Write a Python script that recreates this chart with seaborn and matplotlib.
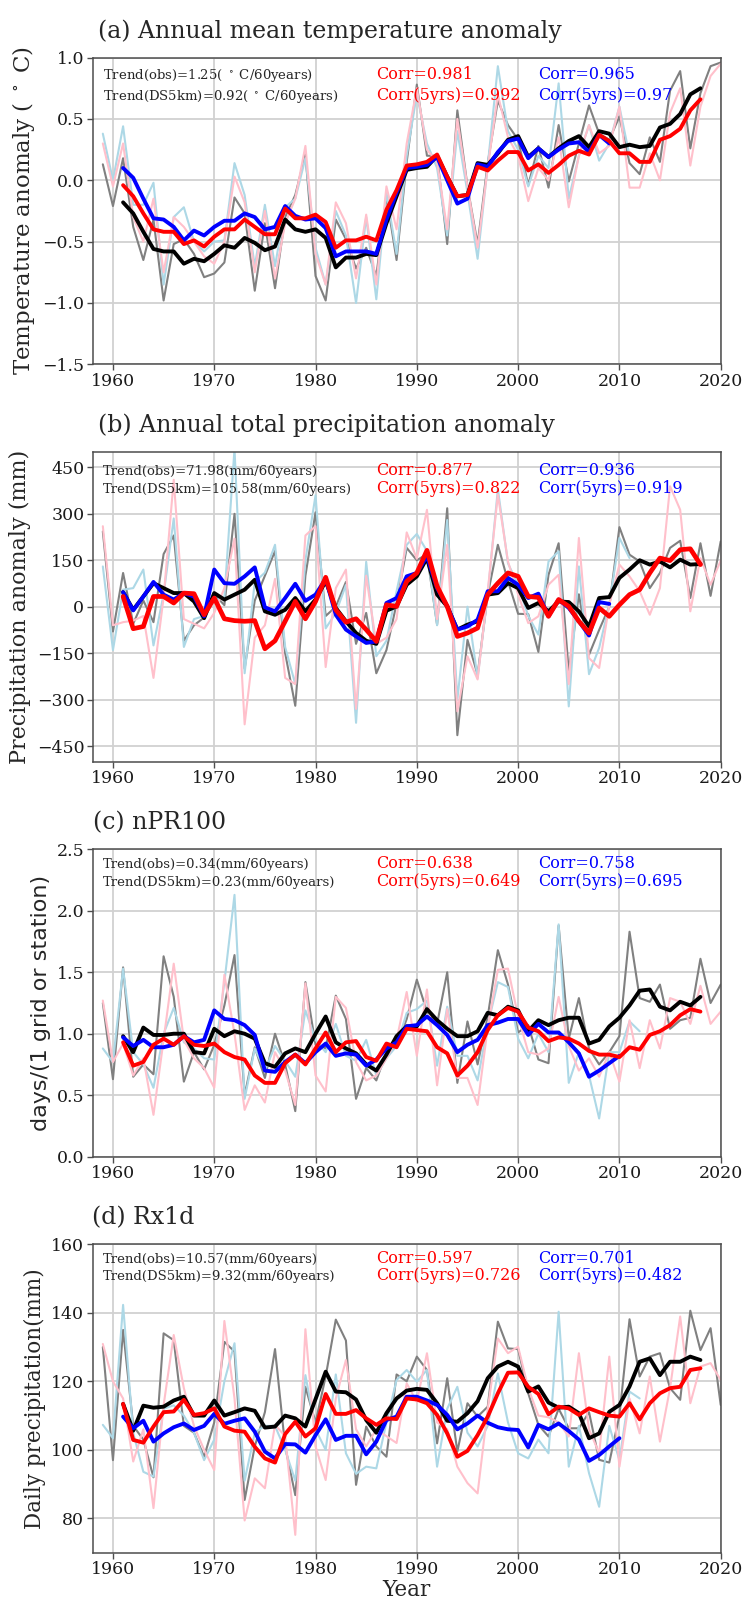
import matplotlib
matplotlib.use("Agg")
import matplotlib.pyplot as plt
import seaborn as sns
import numpy as np
import pandas as pd

# ---------------- data ----------------
years_all = list(range(1959, 2021))      # annual series
years_5yr = list(range(1961, 2019))      # 5-year running means (obs, DS5km)

# (a) Annual mean temperature anomaly
obs_a = [0.13, -0.21, 0.18, -0.38, -0.65, -0.32, -0.98, -0.52, -0.48, -0.6,
         -0.79, -0.76, -0.67, -0.14, -0.27, -0.9, -0.35, -0.88, -0.3, -0.12,
         0.21, -0.78, -0.98, -0.32, -0.48, -0.72, -0.55, -0.78, -0.13, -0.65,
         0.15, 0.78, 0.2, 0.2, -0.52, 0.57, -0.05, -0.52, 0.14, 0.65,
         0.45, 0.33, -0.04, 0.28, -0.06, 0.45, -0.01, 0.3, 0.61, 0.38,
         0.33, 0.52, 0.14, 0.05, 0.35, 0.15, 0.73, 0.89, 0.26, 0.71,
         0.93, 0.96]
ds_a = [0.3, -0.05, 0.3, -0.3, -0.5, -0.15, -0.75, -0.3, -0.38, -0.5,
        -0.62, -0.68, -0.5, 0.03, -0.18, -0.75, -0.25, -0.8, -0.35, -0.15,
        0.28, -0.6, -0.85, -0.18, -0.35, -0.8, -0.28, -0.85, -0.05, -0.4,
        0.3, 0.75, 0.25, 0.15, -0.4, 0.5, -0.05, -0.55, 0.1, 0.7,
        0.35, 0.2, -0.17, 0.1, 0.0, 0.35, -0.22, 0.2, 0.45, 0.22,
        0.28, 0.6, -0.06, -0.06, 0.22, 0.0, 0.55, 0.75, 0.12, 0.6,
        0.85, 0.95]
years_c_a = list(range(1959, 2012))
cmp_a = [0.38, 0.0, 0.44, -0.2, -0.2, -0.02, -0.85, -0.3, -0.22, -0.5,
         -0.58, -0.5, -0.49, 0.14, -0.12, -0.7, -0.2, -0.7, -0.22, -0.15,
         0.18, -0.55, -0.85, -0.25, -0.45, -1.0, -0.3, -0.97, -0.1, -0.6,
         0.2, 0.7, 0.3, 0.1, -0.45, 0.4, -0.1, -0.64, 0.12, 0.93,
         0.4, 0.25, -0.05, 0.2, 0.1, 0.79, -0.15, 0.2, 0.45, 0.16,
         0.3, 0.6, 0.2]
obs5_a = [-0.18, -0.27, -0.42, -0.56, -0.58, -0.58, -0.68, -0.64, -0.66, -0.6,
          -0.53, -0.55, -0.47, -0.51, -0.57, -0.54, -0.32, -0.4, -0.42, -0.4,
          -0.47, -0.71, -0.63, -0.63, -0.6, -0.61, -0.35, -0.13, 0.085, 0.1,
          0.11, 0.2, 0.03, -0.13, -0.12, 0.14, 0.125, 0.22, 0.33, 0.36,
          0.19, 0.26, 0.19, 0.26, 0.32, 0.36, 0.27, 0.4, 0.38, 0.27,
          0.29, 0.27, 0.28, 0.43, 0.46, 0.54, 0.7, 0.75]
ds5_a = [-0.04, -0.13, -0.27, -0.4, -0.42, -0.42, -0.52, -0.49, -0.54, -0.46,
         -0.4, -0.4, -0.32, -0.38, -0.44, -0.44, -0.23, -0.31, -0.31, -0.28,
         -0.34, -0.55, -0.49, -0.49, -0.46, -0.49, -0.24, -0.08, 0.12, 0.13,
         0.15, 0.21, 0.03, -0.13, -0.12, 0.11, 0.08, 0.16, 0.23, 0.23,
         0.08, 0.13, 0.06, 0.125, 0.2, 0.24, 0.21, 0.37, 0.32, 0.22,
         0.22, 0.15, 0.15, 0.33, 0.36, 0.42, 0.57, 0.66]
years_c5_a = list(range(1961, 2010))
cmp5_a = [0.1, 0.02, -0.15, -0.31, -0.32, -0.38, -0.49, -0.41, -0.45, -0.38,
          -0.33, -0.33, -0.27, -0.3, -0.4, -0.38, -0.21, -0.29, -0.32, -0.31,
          -0.39, -0.62, -0.58, -0.58, -0.58, -0.6, -0.32, -0.1, 0.1, 0.11,
          0.125, 0.19, 0.0, -0.19, -0.15, 0.13, 0.11, 0.23, 0.32, 0.34,
          0.18, 0.26, 0.19, 0.25, 0.3, 0.31, 0.23, 0.37, 0.3]

# (b) Annual total precipitation anomaly
obs_b = [243, -80, 109, -55, 20, -50, 170, 230, -110, -60,
         -35, 40, 5, 300, -200, 20, 100, 180, -150, -320,
         100, 305, -30, 0, 80, -120, -20, -215, -140, 10,
         190, 150, 170, -58, 318, -415, -107, -220, 39, 200,
         82, -23, -24, -146, 103, 205, -210, 40, -155, -75,
         0, 257, 168, 146, 60, 109, 190, 213, 28, 205,
         35, 211]
ds_b = [260, -60, -50, -45, -30, -230, 30, 410, -40, -55,
        -70, -20, 60, 220, -380, -100, -60, 90, -230, -250,
        230, 260, -195, 60, 120, -330, 100, -120, -100, -40,
        240, 155, 313, -40, 200, -338, -160, -235, 50, 362,
        146, 39, -53, -31, 71, 103, -250, 222, -166, -198,
        6, 136, 98, 50, -26, 60, 389, 313, -15, 157,
        71, 149]
years_c_b = list(range(1959, 2012))
cmp_b = [130, -140, 55, 60, 120, -125, 40, 285, -130, -40,
         -30, 20, 30, 510, -215, 80, 110, 200, -130, -250,
         150, 360, -70, -20, 70, -375, 145, -160, -110, 50,
         200, 235, 180, -60, 280, -300, 0, -230, 40, 380,
         140, 70, -30, -90, 146, 179, -322, 130, -218, -133,
         6, 222, 157]
obs5_b = [47, -10, 33, 76, 60, 44, 44, 17, -37, 44,
          23, 39, 55, 87, -15, -26, -10, 28, -15, 23,
          82, -4, -47, -85, -110, -120, -13, 1, 71, 98,
          157, 39, 1, -74, -58, -47, 39, 44, 76, 60,
          -4, 12, -15, 17, 15, -15, -64, 28, 31, 93,
          120, 150, 136, 146, 127, 152, 136, 138]
ds5_b = [33, -71, -64, 33, 33, 12, 44, 42, -26, 28,
         -39, -45, -47, -45, -136, -110, -47, 17, -39, 17,
         95, -10, -50, -39, -74, -112, 6, 1, 82, 109,
         182, 66, 1, -96, -85, -69, 39, 76, 109, 98,
         33, 30, -31, 23, 1, -47, -85, -4, -31, 6,
         39, 55, 109, 157, 149, 184, 187, 136]
years_c5_b = list(range(1961, 2010))
cmp5_b = [47, -12, 33, 80, 39, 23, 44, 33, -31, 120,
          76, 74, 98, 127, -2, -15, 28, 74, 19, 39,
          90, -26, -74, -96, -117, -112, 12, 28, 98, 109,
          163, 60, 1, -74, -64, -42, 50, 50, 93, 71,
          28, 42, -31, 23, -4, -47, -93, 15, 9]

# (c) nPR100
obs_c = [1.25, 0.63, 1.54, 0.65, 0.75, 0.67, 1.63, 1.3, 0.61, 0.85,
         0.71, 0.91, 1.23, 1.64, 0.5, 0.89, 0.64, 1.0, 0.75, 0.37,
         1.42, 0.91, 0.88, 1.31, 1.12, 0.47, 0.72, 0.62, 0.85, 0.9,
         1.12, 1.44, 1.18, 1.08, 1.5, 0.6, 1.1, 0.75, 1.14, 1.68,
         1.4, 1.01, 1.07, 0.79, 0.76, 1.88, 0.96, 1.29, 0.88, 0.75,
         0.85, 0.98, 1.83, 1.29, 1.26, 1.4, 1.04, 1.11, 1.13, 1.61,
         1.25, 1.4]
ds_c = [1.27, 0.77, 0.92, 0.66, 0.8, 0.34, 0.95, 1.57, 0.95, 0.8,
        0.72, 0.56, 1.48, 1.0, 0.38, 0.58, 0.44, 0.85, 0.7, 0.42,
        1.41, 0.66, 0.53, 1.3, 1.21, 0.77, 0.62, 0.66, 0.8, 0.95,
        1.34, 0.82, 1.36, 0.58, 1.2, 0.64, 0.64, 0.42, 1.05, 1.52,
        1.53, 1.14, 0.85, 0.83, 0.88, 1.3, 0.9, 0.7, 0.8, 0.65,
        0.85, 0.61, 1.11, 0.72, 1.11, 0.88, 1.29, 1.26, 1.08, 1.39,
        1.08, 1.18]
years_c_c = list(range(1959, 2013))
cmp_c = [0.88, 0.77, 1.53, 0.85, 0.75, 0.56, 1.0, 1.21, 0.93, 0.88,
         0.8, 0.79, 1.42, 2.13, 0.47, 0.88, 0.7, 0.9, 0.78, 0.65,
         1.19, 0.95, 0.85, 1.08, 0.82, 0.78, 0.95, 0.66, 0.8, 0.9,
         1.17, 1.2, 1.27, 0.74, 1.22, 0.82, 0.82, 0.62, 1.07, 1.42,
         1.38, 0.96, 0.8, 1.0, 0.85, 1.89, 0.6, 0.85, 0.66, 0.31,
         0.85, 0.85, 1.1, 1.02]
obs5_c = [0.98, 0.85, 1.05, 0.99, 0.99, 1.0, 1.0, 0.85, 0.84, 1.04,
          0.98, 1.02, 1.0, 0.96, 0.76, 0.73, 0.84, 0.88, 0.85, 1.0,
          1.14, 0.93, 0.88, 0.84, 0.75, 0.7, 0.83, 0.98, 1.06, 1.06,
          1.2, 1.11, 1.04, 0.98, 0.98, 1.02, 1.17, 1.15, 1.22, 1.19,
          1.02, 1.11, 1.07, 1.11, 1.13, 1.13, 0.92, 0.95, 1.06, 1.13,
          1.23, 1.35, 1.36, 1.22, 1.19, 1.26, 1.23, 1.3]
ds5_c = [0.93, 0.74, 0.77, 0.91, 0.96, 0.91, 0.98, 0.91, 0.9, 0.92,
         0.85, 0.81, 0.79, 0.66, 0.6, 0.6, 0.76, 0.83, 0.75, 0.88,
         1.01, 0.85, 0.93, 0.94, 0.81, 0.78, 0.92, 0.89, 1.04, 1.03,
         1.02, 0.89, 0.84, 0.66, 0.74, 0.85, 1.03, 1.15, 1.21, 1.18,
         1.05, 1.02, 0.94, 0.97, 0.96, 0.92, 0.86, 0.83, 0.83, 0.81,
         0.89, 0.87, 0.99, 1.02, 1.07, 1.15, 1.2, 1.18]
years_c5_c = list(range(1961, 2011))
cmp5_c = [0.97, 0.9, 0.95, 0.89, 0.89, 0.91, 0.98, 0.93, 0.95, 1.19,
          1.12, 1.11, 1.07, 0.99, 0.7, 0.69, 0.77, 0.83, 0.76, 0.85,
          0.92, 0.82, 0.84, 0.83, 0.74, 0.79, 0.88, 0.93, 1.06, 1.07,
          1.14, 1.07, 0.99, 0.85, 0.91, 0.95, 1.07, 1.09, 1.12, 1.12,
          0.99, 1.08, 1.01, 1.01, 0.93, 0.84, 0.65, 0.7, 0.76, 0.82]

# (d) Rx1d
obs_d = [130, 97, 135, 107, 103, 92, 134, 132, 107, 105,
         98, 108, 131.5, 128.7, 85.4, 101, 111, 129.4, 101, 86.8,
         118.4, 108, 121.4, 138, 131.9, 89.8, 106.8, 101, 98, 122,
         120, 127.2, 123.3, 101.9, 120.9, 99.5, 113.6, 109.7, 112.6, 137.4,
         129.6, 129.4, 116.5, 107.3, 103.9, 112, 106.3, 106.3, 111, 97.1,
         96.3, 110, 138.1, 121.4, 127.2, 128.2, 118, 114.6, 140.6, 129.1,
         135.5, 113.1]
ds_d = [130.9, 120, 115, 96.6, 106, 83, 113, 133.5, 118, 107,
        100, 94.1, 137.6, 115, 79.4, 91.7, 88.8, 107.3, 104, 75.2,
        135.2, 101, 91.2, 115, 126.2, 106, 101, 106, 104, 102,
        119.4, 114, 128.2, 108, 106, 95.1, 90.3, 87.3, 112, 132.5,
        128.2, 130.1, 118, 110, 109.5, 108, 103.9, 128.2, 106, 99,
        127.2, 95.1, 115, 104.8, 121.4, 102.4, 118, 138.9, 113.6, 124.3,
        125.3, 120.4]
years_c_d = list(range(1959, 2013))
cmp_d = [107.3, 103.4, 142.3, 105, 93.6, 92.2, 112, 113, 110, 105,
         97, 103, 120, 131.1, 91, 105, 107, 107, 100, 91,
         121.8, 106, 100, 122, 99, 93, 95.1, 94.6, 108, 120.4,
         123.3, 119.9, 123.3, 95.1, 112, 118.4, 105, 101, 107, 122.3,
         108, 99, 97.5, 103, 99, 140.3, 95.1, 107, 93.2, 83.4,
         107, 97, 117, 115]
obs5_d = [113.4, 105.6, 112.9, 112.3, 112.6, 114.4, 115.5, 110, 110, 114.4,
          110, 111, 112.1, 111.4, 106.5, 106.8, 110, 109.2, 106.8, 114.8,
          122.8, 117, 116.8, 114.7, 108.7, 105, 110.7, 115, 117.3, 117.8,
          117.5, 113.6, 108.5, 108.2, 110.7, 114.2, 120.9, 124.3, 125.7, 124.3,
          117, 118.5, 113.8, 112.3, 112.6, 110.7, 103.4, 104.8, 111.1, 113.1,
          118.5, 125.7, 126.7, 121.8, 125.7, 125.7, 127.2, 126.2]
ds5_d = [113.4, 102.9, 102.1, 106.8, 111, 111.2, 114.6, 110.2, 110.7, 112.1,
         106.8, 105.6, 105.3, 100.9, 97.5, 96.3, 104.6, 108.2, 103.9, 106.3,
         116.3, 110.5, 110.5, 111.6, 109.2, 107.3, 109.2, 109, 115, 114.7,
         113.6, 110.2, 104.8, 98, 99.7, 104.3, 109.7, 116.5, 122.5, 122.6,
         118.4, 116.3, 110.4, 112.6, 112.1, 110.2, 112.1, 111, 110, 109.7,
         113.6, 108.9, 113.6, 116.5, 118, 118.4, 123.3, 123.8]
years_c5_d = list(range(1961, 2011))
cmp5_d = [109.7, 106.3, 108.5, 102.4, 104.8, 106.6, 107.7, 105.8, 107, 110.5,
          107.6, 108.5, 109.2, 105.3, 99.5, 97.5, 101.7, 101.6, 99.2, 104.3,
          108.9, 102.9, 104.1, 104.1, 98.7, 102.4, 108.7, 109.7, 115.5, 115.5,
          114.4, 113.1, 110.2, 106, 107.7, 110, 107.9, 106.6, 106, 105.8,
          100.7, 107.3, 106, 107.7, 105.5, 103, 96.8, 98.5, 101, 103.4]

titles = ["(a) Annual mean temperature anomaly",
          "(b) Annual total precipitation anomaly",
          "(c) nPR100",
          "(d) Rx1d"]
ylabels = ["Temperature anomaly ( $^\\circ$ C)",
           "Precipitation anomaly (mm)",
           "days/(1 grid or station)",
           "Daily precipitation(mm)"]
trend_obs = ["Trend(obs)=1.25( $^\\circ$ C/60years)",
             "Trend(obs)=71.98(mm/60years)",
             "Trend(obs)=0.34(mm/60years)",
             "Trend(obs)=10.57(mm/60years)"]
trend_ds = ["Trend(DS5km)=0.92( $^\\circ$ C/60years)",
            "Trend(DS5km)=105.58(mm/60years)",
            "Trend(DS5km)=0.23(mm/60years)",
            "Trend(DS5km)=9.32(mm/60years)"]
corr_red = [("Corr=0.981", "Corr(5yrs)=0.992"), ("Corr=0.877", "Corr(5yrs)=0.822"),
            ("Corr=0.638", "Corr(5yrs)=0.649"), ("Corr=0.597", "Corr(5yrs)=0.726")]
corr_blue = [("Corr=0.965", "Corr(5yrs)=0.97"), ("Corr=0.936", "Corr(5yrs)=0.919"),
             ("Corr=0.758", "Corr(5yrs)=0.695"), ("Corr=0.701", "Corr(5yrs)=0.482")]
yticks = [[-1.5, -1.0, -0.5, 0.0, 0.5, 1.0],
          [-450, -300, -150, 0, 150, 300, 450],
          [0.0, 0.5, 1.0, 1.5, 2.0, 2.5],
          [80, 100, 120, 140, 160]]
ylims = [(-1.5, 1.0), (-500, 500), (0.0, 2.5), (70, 160)]
xticks = [1960, 1970, 1980, 1990, 2000, 2010, 2020]

panels = [
    (obs_a, ds_a, years_c_a, cmp_a, obs5_a, ds5_a, years_c5_a, cmp5_a),
    (obs_b, ds_b, years_c_b, cmp_b, obs5_b, ds5_b, years_c5_b, cmp5_b),
    (obs_c, ds_c, years_c_c, cmp_c, obs5_c, ds5_c, years_c5_c, cmp5_c),
    (obs_d, ds_d, years_c_d, cmp_d, obs5_d, ds5_d, years_c5_d, cmp5_d),
]

# ---------------- style ----------------
sns.set_theme(style="whitegrid")
plt.rcParams["font.family"] = ["DejaVu Serif"]
plt.rcParams["mathtext.fontset"] = "dejavuserif"
plt.rcParams["axes.unicode_minus"] = True

W, H = 746, 1600
fig = plt.figure(figsize=(W / 100, H / 100), dpi=100)

# axes boxes in pixels: (top, bottom)
boxes = [(57.6, 364.3), (451.9, 761.5), (849.4, 1156.6), (1244.2, 1552.7)]
left_px, right_px = 92.7, 720.7
title_dx = [5, 5, 0, -1]
text_rows = [(21.7, 42.4), (22.8, 41.1), (18.3, 36.3), (18.5, 35.8)]
ylabel_sizes = [16.5, 16, 16, 15.5]
PX = 0.72  # points per pixel at 100 dpi

for i, (top, bot) in enumerate(boxes):
    ax = fig.add_axes([left_px / W, 1 - bot / H, (right_px - left_px) / W, (bot - top) / H])
    obs, ds, yc, cmpv, obs5, ds5, yc5, cmp5 = panels[i]

    thin = 1.5
    thick = 3.4 if i == 1 else 2.8
    sns.lineplot(x=years_all, y=obs, ax=ax, color="gray", lw=thin, estimator=None, sort=False)
    sns.lineplot(x=yc, y=cmpv, ax=ax, color="lightblue", lw=thin, estimator=None, sort=False)
    sns.lineplot(x=years_all, y=ds, ax=ax, color="pink", lw=thin, estimator=None, sort=False)
    sns.lineplot(x=years_5yr, y=obs5, ax=ax, color="black", lw=2.8, estimator=None, sort=False)
    sns.lineplot(x=yc5, y=cmp5, ax=ax, color="blue", lw=2.8, estimator=None, sort=False)
    sns.lineplot(x=years_5yr, y=ds5, ax=ax, color="red", lw=thick, estimator=None, sort=False)

    ax.set_xlim(1958, 2020)
    ax.set_ylim(*ylims[i])
    ax.set_xticks(xticks)
    ax.set_yticks(yticks[i])
    ax.grid(True, color="0.82", lw=1.3)
    for s in ax.spines.values():
        s.set_color("0.3")
        s.set_linewidth(1.1)
    ax.tick_params(axis="both", which="major", direction="out", length=4, width=1,
                   color="0.3", labelsize=12.5, pad=2, bottom=True, left=True,
                   labelcolor="0.1")

    yl_font = "DejaVu Sans" if i == 2 else "DejaVu Serif"
    ax.set_ylabel(ylabels[i], fontsize=ylabel_sizes[i], family=yl_font, labelpad=4)
    if i == 3:
        ax.set_xlabel("Year", fontsize=15.5, labelpad=1)
    else:
        ax.set_xlabel("")

    ax.annotate(titles[i], xy=(0, 1), xycoords="axes fraction",
                xytext=(title_dx[i] * PX, 20 * PX), textcoords="offset points",
                ha="left", va="baseline", fontsize=17)

    r1, r2 = text_rows[i]
    for txt, xf, r, col, fs in [
        (trend_obs[i], 0.016, r1, "0.15", 9.5),
        (trend_ds[i], 0.016, r2, "0.15", 9.5),
        (corr_red[i][0], 0.451, r1, "red", 11.5),
        (corr_red[i][1], 0.451, r2, "red", 11.5),
        (corr_blue[i][0], 0.7096, r1, "blue", 11.5),
        (corr_blue[i][1], 0.7096, r2, "blue", 11.5),
    ]:
        ax.annotate(txt, xy=(xf, 1), xycoords="axes fraction",
                    xytext=(0, -r * PX), textcoords="offset points",
                    ha="left", va="baseline", color=col, fontsize=fs)

fig.savefig("out.png", dpi=100)
